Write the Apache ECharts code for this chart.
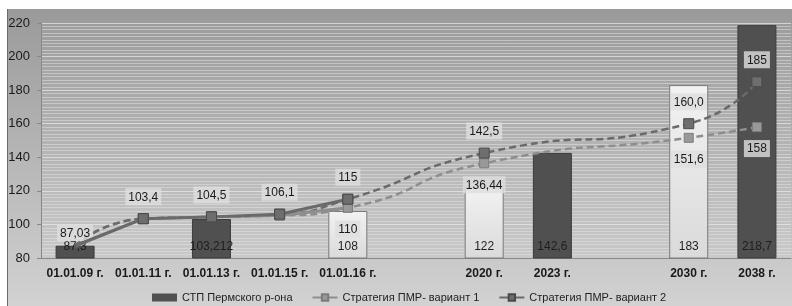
<!DOCTYPE html>
<html>
<head>
<meta charset="utf-8">
<script src="https://cdn.jsdelivr.net/npm/echarts@6/dist/echarts.min.js"></script>
<style>
html, body { margin: 0; padding: 0; background: #fff; }
#bg { position: absolute; left: 7px; top: 9px; width: 785px; height: 297px;
      background: linear-gradient(#9a9a9a, #d2d2d2); border-left: 1px solid #6a6a6a; }
#chart { position: absolute; left: 0; top: 0; width: 792px; height: 306px; }
</style>
</head>
<body>
<div id="bg"></div>
<div id="chart"></div>
<script>
const categories = ['01.01.09 г.', '01.01.11 г.', '01.01.13 г.', '01.01.15 г.', '01.01.16 г.', '',
  '2020 г.', '2023 г.', '', '2030 г.', '2038 г.'];
// СТП Пермского р-она
const barValues = [87.3, null, 103.212, null, 108, null, 122, 142.6, null, 183, 218.7];
const barLabels = ['87,3', '', '103,212', '', '108', '', '122', '142,6', '', '183', '218,7'];
const barDark = [true, false, true, false, false, false, false, true, false, false, true];
// Стратегия ПМР- вариант 1
const var1 = [87.03, 103.4, 104.5, 105.3, 110, null, 136.44, null, null, 151.6, 158];
const var1Labels = ['87,03', '', '', '', '110', '', '136,44', '', '', '151,6', '158'];
// Стратегия ПМР- вариант 2
const var2 = [87.3, 103.4, 104.5, 106.1, 115, null, 142.5, null, null, 160, 185];
const var2Labels = ['', '103,4', '104,5', '106,1', '115', '', '142,5', '', '', '160,0', '185'];
const solidEnd = 4;

const names = ['СТП Пермского р-она', 'Стратегия ПМР- вариант 1', 'Стратегия ПМР- вариант 2'];
const font = 'Liberation Sans, Arial, sans-serif';

let chart = echarts.init(document.getElementById('chart'));

const lightFill = new echarts.graphic.LinearGradient(0, 0, 0, 1, [
  {offset: 0, color: '#f2f2f2'}, {offset: 1, color: '#dadada'}]);

let barData = barValues.map((v, i) => ({
  value: v,
  itemStyle: barDark[i]
    ? {color: '#505050', borderColor: '#3c3c3c', borderWidth: 1}
    : {color: lightFill, borderColor: '#7a7a7a', borderWidth: 1}
}));

const lblBox = {
  show: true, fontSize: 12, color: '#1a1a1a', fontFamily: font,
  backgroundColor: 'rgba(222,222,222,0.8)', padding: [3, 3, 2, 3]
};

function lineData(vals, labels, pos, dist) {
  return vals.map((v, i) => ({
    value: v,
    // first point's marker is hidden behind the bar label in the reference
    symbolSize: i === 0 ? 1 : undefined,
    label: labels[i] ? Object.assign({}, lblBox, {position: pos, distance: dist, formatter: labels[i]}) : {show: false}
  }));
}
function solidPart(vals) {
  return vals.map((v, i) => ({value: i <= solidEnd ? v : null, symbolSize: i === 0 ? 1 : undefined}));
}

const c1 = '#8e8e8e', c2 = '#6a6a6a';

let option = {
  animation: false,
  textStyle: {fontFamily: font},
  grid: {left: 41, top: 23, right: 1, bottom: 48},
  legend: {
    data: [
      {name: names[0], icon: 'rect'},
      {name: names[1]},
      {name: names[2]}
    ],
    left: 147, top: 287, itemGap: 19, itemWidth: 25, itemHeight: 8,
    textStyle: {fontSize: 11, color: '#222', fontFamily: font}
  },
  xAxis: {
    type: 'category',
    data: categories,
    axisLine: {lineStyle: {color: '#888'}},
    axisTick: {interval: 0, length: 4, lineStyle: {color: '#888'}},
    axisLabel: {interval: 0, fontWeight: 'bold', fontSize: 12, color: '#1a1a1a', margin: 10, fontFamily: font}
  },
  yAxis: {
    type: 'value', min: 80, max: 220, interval: 20,
    axisLine: {show: true, lineStyle: {color: '#888'}},
    axisTick: {show: true, length: 4, lineStyle: {color: '#888'}},
    axisLabel: {fontSize: 13, color: '#1a1a1a', margin: 11, fontFamily: font},
    splitLine: {lineStyle: {color: 'rgba(235,235,235,0.7)', width: 1}},
    minorTick: {show: false, splitNumber: 10},
    minorSplitLine: {show: true, lineStyle: {color: 'rgba(230,230,230,0.5)', width: 1}}
  },
  series: [
    {
      name: names[0], type: 'bar', data: barData, barWidth: 39,
      itemStyle: {color: '#505050'},
      label: {show: true, position: 'insideBottom', distance: 6, fontSize: 12,
        color: '#1e1e1e', fontFamily: font,
        formatter: p => barLabels[p.dataIndex]},
      z: 2
    },
    {
      name: names[1], type: 'line', data: solidPart(var1), smooth: false,
      symbol: 'rect', symbolSize: 9,
      lineStyle: {color: c1, width: 3},
      itemStyle: {color: '#999', borderColor: '#7c7c7c', borderWidth: 1},
      z: 4
    },
    {
      name: names[2], type: 'line', data: solidPart(var2), smooth: false,
      symbol: 'rect', symbolSize: 10,
      lineStyle: {color: c2, width: 3},
      itemStyle: {color: '#6e6e6e', borderColor: '#4a4a4a', borderWidth: 1},
      z: 5
    },
    {
      name: names[1], type: 'line', data: lineData(var1, var1Labels, 'bottom', 8),
      smooth: 0.6, connectNulls: true,
      symbol: 'rect', symbolSize: 9,
      lineStyle: {color: c1, width: 2.5, type: [7, 4]},
      itemStyle: {color: '#999', borderColor: '#7c7c7c', borderWidth: 1},
      z: 3
    },
    {
      name: names[2], type: 'line', data: lineData(var2, var2Labels, 'top', 8),
      smooth: 0.6, connectNulls: true,
      symbol: 'rect', symbolSize: 10,
      lineStyle: {color: c2, width: 2.5, type: [7, 4]},
      itemStyle: {color: '#6e6e6e', borderColor: '#4a4a4a', borderWidth: 1},
      z: 3
    }
  ]
};
// 87,03 sits above its point in the reference
option.series[3].data[0].label.position = 'top';
option.series[3].data[0].label.distance = 4;

chart.setOption(option);
</script>
</body>
</html>
